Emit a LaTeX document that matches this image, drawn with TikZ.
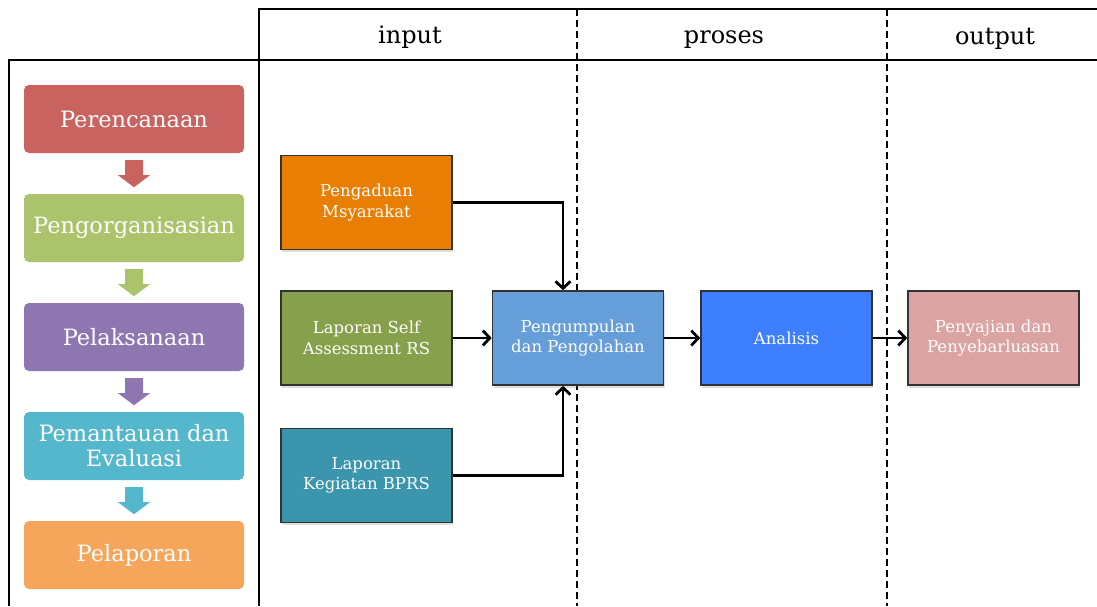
\documentclass[tikz,border=0pt]{standalone}
\usepackage{fontspec}
\setmainfont{DejaVu Serif}
\usetikzlibrary{calc,shadows,arrows.meta}
\definecolor{cPre}{HTML}{C8635F}
\definecolor{cOrg}{HTML}{ABC46C}
\definecolor{cPel}{HTML}{8E77B1}
\definecolor{cPem}{HTML}{55B7CC}
\definecolor{cLap}{HTML}{F5A65B}
\definecolor{cMsy}{HTML}{E87E04}
\definecolor{cSelf}{HTML}{87A04B}
\definecolor{cBprs}{HTML}{3A95AD}
\definecolor{cKum}{HTML}{659ED8}
\definecolor{cAna}{HTML}{3D7FFF}
\definecolor{cSaji}{HTML}{DBA3A2}
\begin{document}
\begin{tikzpicture}[x=1pt,y=-1pt,
  stage/.style={fill=#1, rounded corners=5pt, minimum width=220pt, minimum height=68pt, inner sep=0pt, text=white, align=center, font=\fontsize{22.5}{25}\selectfont},
  flowbox/.style={fill=#1, draw=black!80, line width=1.6pt, minimum width=171pt, minimum height=94pt, inner sep=0pt, text=white, align=center, font=\fontsize{16.5}{20.5}\selectfont, drop shadow={opacity=0.25, shadow xshift=1pt, shadow yshift=-2.5pt}},
  head/.style={anchor=base, font=\fontsize{24}{27}\selectfont},
  frame/.style={line width=2pt},
  divider/.style={line width=1.5pt, dash pattern=on 7pt off 4pt},
  link/.style={line width=2.8pt, -{Straight Barb[length=7pt,width=15pt]}}]
\useasboundingbox (0,0) rectangle (1097,606);

\draw[frame] (9,606) -- (9,60) -- (1097,60);
\draw[frame] (259,606) -- (259,9) -- (1097,9);
\draw[divider] (577,9) -- (577,606);
\draw[divider] (887,9) -- (887,606);

\node[head] (hin) at (410,43) {input};
\node[head] (hpro) at (724,43) {proses};
\node[head] (hout) at (995,44) {output};

\node[stage=cPre] (pre) at (134,119) {Perencanaan};
\node[stage=cOrg] (org) at (134,228) {Pengorganisasian};
\node[stage=cPel] (pel) at (134,337) {Pelaksanaan};
\node[stage=cPem] (pem) at (134,446) {Pemantauan dan\\Evaluasi};
\node[stage=cLap] (lap) at (134,555) {Pelaporan};

\foreach \a/\c in {pre/cPre, org/cOrg, pel/cPel, pem/cPem}
  \fill[\c] ($(\a.south)+(-9,7)$) -- ($(\a.south)+(9,7)$) -- ($(\a.south)+(9,22)$)
    -- ($(\a.south)+(16,22)$) -- ($(\a.south)+(0,34)$) -- ($(\a.south)+(-16,22)$)
    -- ($(\a.south)+(-9,22)$) -- cycle;

\node[flowbox=cMsy] (msy) at (366.5,202.5) {Pengaduan\\Msyarakat};
\node[flowbox=cSelf] (self) at (366.5,338) {Laporan Self\\Assessment RS};
\node[flowbox=cBprs] (bprs) at (366.5,475.5) {Laporan\\Kegiatan BPRS};
\node[flowbox=cKum] (kum) at (578,338) {Pengumpulan\\dan Pengolahan};
\node[flowbox=cAna] (ana) at (786.5,338) {Analisis};
\node[flowbox=cSaji] (saji) at (993.5,338) {Penyajian dan\\Penyebarluasan};

\draw[link] (msy.east) -| ([xshift=-15pt]kum.north);
\draw[link] (bprs.east) -| ([xshift=-15pt]kum.south);
\draw[link] (self) -- (kum);
\draw[link] (kum) -- (ana);
\draw[link] (ana) -- (saji);
\end{tikzpicture}
\end{document}
